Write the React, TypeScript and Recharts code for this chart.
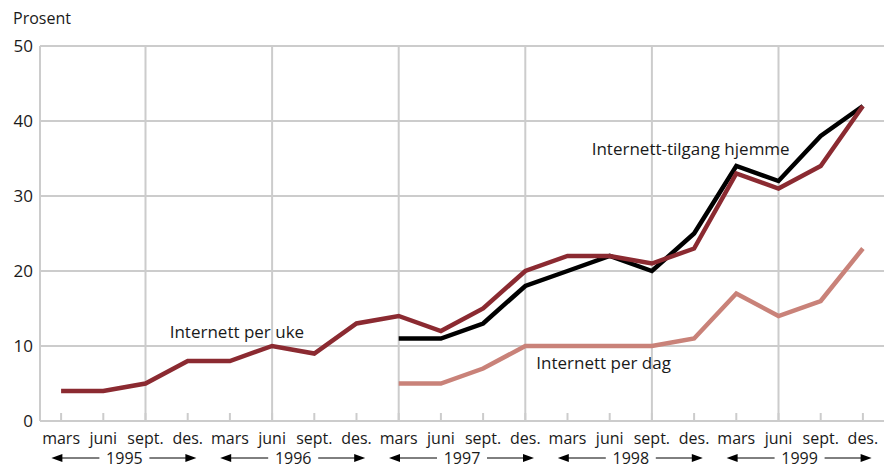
import { LineChart, Line, XAxis, YAxis, CartesianGrid, ReferenceLine, ReferenceDot } from 'recharts'

const years = ['1995', '1996', '1997', '1998', '1999']
const months = ['mars', 'juni', 'sept.', 'des.']

const perUke = [4, 4, 5, 8, 8, 10, 9, 13, 14, 12, 15, 20, 22, 22, 21, 23, 33, 31, 34, 42]
const tilgangHjemme = [null, null, null, null, null, null, null, null, 11, 11, 13, 18, 20, 22, 20, 25, 34, 32, 38, 42]
const perDag = [null, null, null, null, null, null, null, null, 5, 5, 7, 10, 10, 10, 10, 11, 17, 14, 16, 23]

const yTicks = [0, 10, 20, 30, 40, 50]
// every third quarter gets a vertical grid line
const gridQuarters = ['1995 sept.', '1996 juni', '1997 mars', '1997 des.', '1998 sept.', '1999 juni']

const data = years.flatMap((year, yi) =>
  months.map((month, mi) => {
    const i = yi * 4 + mi
    return { key: `${year} ${month}`, year, month, uke: perUke[i], hjemme: tilgangHjemme[i], dag: perDag[i] }
  })
)

const GRID = '#cccccc'
const TEXT = '#1a1a1a'

const MonthTick = ({ x, y, payload }: any) => (
  <g>
    <line x1={x} x2={x} y1={y - 8} y2={y} stroke={GRID} strokeWidth={2} />
    <text x={x} y={y + 23} textAnchor="middle" fontSize={16} fill={TEXT}>
      {String(payload.value).split(' ')[1]}
    </text>
  </g>
)

const YearTick = ({ x, y, payload }: any) => {
  const cy = y + 13
  return (
    <g>
      <line x1={x - 64} x2={x - 25} y1={cy} y2={cy} stroke="#000" strokeWidth={1} />
      <polygon points={`${x - 73},${cy} ${x - 62},${cy - 4} ${x - 62},${cy + 4}`} fill="#000" />
      <line x1={x + 25} x2={x + 63} y1={cy} y2={cy} stroke="#000" strokeWidth={1} />
      <polygon points={`${x + 72},${cy} ${x + 61},${cy - 4} ${x + 61},${cy + 4}`} fill="#000" />
      <text x={x} y={cy} dy="0.36em" textAnchor="middle" fontSize={16} fill={TEXT}>
        {payload.value}
      </text>
    </g>
  )
}

const seriesLabel = (text: string, dx: number, dy: number) => (props: any) => {
  const { viewBox } = props
  return (
    <text x={viewBox.x + dx} y={viewBox.y + dy} fontSize={17} fill={TEXT}>
      {text}
    </text>
  )
}

export default function App() {
  return (
    <div style={{ position: 'absolute', left: 0, top: 0, width: 884, height: 468, fontFamily: '"Open Sans", sans-serif' }}>
      <div style={{ position: 'absolute', left: 13, top: 7, fontSize: 16, color: TEXT }}>Prosent</div>
      <LineChart width={884} height={468} data={data} margin={{ top: 46, right: 0, bottom: 0, left: 0 }}>
        <CartesianGrid horizontal vertical={false} stroke={GRID} strokeWidth={2} />
        {gridQuarters.map((q) => (
          <ReferenceLine key={q} x={q} stroke={GRID} strokeWidth={2} />
        ))}
        <XAxis
          dataKey="key"
          scale="band"
          interval={0}
          height={24}
          tickSize={0}
          tickMargin={0}
          tickLine={false}
          axisLine={{ stroke: GRID, strokeWidth: 2 }}
          tick={<MonthTick />}
        />
        <XAxis
          xAxisId="year"
          dataKey="year"
          scale="band"
          allowDuplicatedCategory={false}
          ticks={years}
          interval={0}
          height={23}
          tickSize={0}
          tickMargin={0}
          tickLine={false}
          axisLine={false}
          tick={<YearTick />}
        />
        <YAxis
          domain={[0, 50]}
          ticks={yTicks}
          width={40}
          tickSize={0}
          tickMargin={7}
          tickLine={false}
          axisLine={{ stroke: GRID, strokeWidth: 2 }}
          tick={{ fontSize: 17, fill: TEXT }}
        />
        <Line dataKey="dag" stroke="#c98279" strokeWidth={4.5} dot={false} isAnimationActive={false} />
        <Line dataKey="hjemme" stroke="#000000" strokeWidth={4.5} dot={false} isAnimationActive={false} />
        <Line dataKey="uke" stroke="#8b2a31" strokeWidth={4.5} dot={false} isAnimationActive={false} />
        <ReferenceDot x="1995 des." y={12} r={0} fill="none" stroke="none" label={seriesLabel('Internett per uke', -18, 7)} />
        <ReferenceDot x="1998 juni" y={36} r={0} fill="none" stroke="none" label={seriesLabel('Internett-tilgang hjemme', -18, 4)} />
        <ReferenceDot x="1997 des." y={7} r={0} fill="none" stroke="none" label={seriesLabel('Internett per dag', 11, 0)} />
      </LineChart>
    </div>
  )
}
